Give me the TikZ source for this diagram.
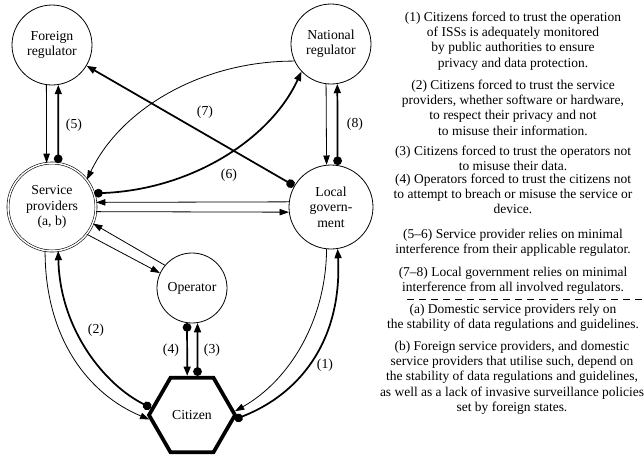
\documentclass[tikz,border=0pt]{standalone}
\usepackage{fontspec}
\setmainfont{Liberation Serif}
\usetikzlibrary{arrows.meta,shapes.geometric}

\newcommand\txtsize{\fontsize{10.3}{11.5}\selectfont}
\newcommand\legsize{\fontsize{10.1}{11.5}\selectfont}

\tikzset{
  ent/.style={circle, draw, line width=0.6pt, inner sep=0pt, align=center, font=\txtsize},
  thinarr/.style={line width=0.6pt, -{Triangle[length=7pt,width=4.8pt]}},
  trustarr/.style={line width=1.3pt, {Circle[length=6.5pt]}-{Triangle[length=7pt,width=5.2pt]}},
  lbl/.style={font=\txtsize, inner sep=0pt},
  note/.style={align=center, anchor=north, inner sep=0pt, font=\legsize}
}

\begin{document}
\begin{tikzpicture}[x=0.75pt, y=-0.75pt]
\useasboundingbox (0,0) rectangle (644,455);

% actors
\node[ent, minimum size=60pt] (fr) at (52,45) {Foreign\\regulator};
\node[ent, minimum size=60pt] (nr) at (331,44) {National\\regulator};
\node[ent, minimum size=63pt] (lg) at (331,207) {Local\\govern-\\ment};
\node[ent, minimum size=66pt, double, double distance=1.1pt, line width=0.45pt] (sp) at (52,207) {Service\\providers\\(a, b)};
\node[ent, minimum size=52.5pt] (op) at (192,288) {Operator};
\node[regular polygon, regular polygon sides=6, draw, line width=2.8pt,
      minimum size=64.5pt, inner sep=0pt, font=\txtsize] (cit) at (192,415) {Citizen};

% regulators and service providers
\draw[thinarr] (fr.-98.6) -- (sp.97.7);
\draw[trustarr] (sp.82.3) -- (fr.-81.4);
\draw[thinarr] (nr.-97.2) -- (lg.96.8);
\draw[trustarr] (lg.81.8) -- (nr.-81.4);
\draw[trustarr] (lg.150) -- (fr.-31.4);
\draw[thinarr] (nr.205) .. controls (200,61) and (120,110) .. (sp.38.9);
\draw[trustarr] (sp.18.4) .. controls (190,190) and (270,140) .. (nr.223.2);

% service providers, local government and operator
\draw[thinarr] (lg.173.2) -- (sp.6.4);
\draw[thinarr] (sp.-6.4) -- (lg.-173.2);
\draw[thinarr] (op.140.6) -- (sp.-22.7);
\draw[thinarr] (sp.-38.7) -- (op.155.6);

% citizen links
\draw[trustarr] (op.-98.2) -- (cit.97.7);
\draw[trustarr] (cit.82.3) -- (op.-81.8);
\draw[thinarr] (sp.-99) .. controls (45,340) and (90,395) .. (cit.186);
\draw[trustarr] (cit.170) .. controls (105,385) and (60,330) .. (sp.-82);
\draw[thinarr] (lg.-96.8) .. controls (326,320) and (290,380) .. (cit.5);
\draw[trustarr] (cit.-6) .. controls (305,392) and (342,335) .. (lg.-81.8);

% edge numbers
\node[lbl] (l1) at (325,365) {(1)};
\node[lbl] (l2) at (96,330) {(2)};
\node[lbl] (l3) at (212,350) {(3)};
\node[lbl] (l4) at (171,350) {(4)};
\node[lbl] (l5) at (74,125) {(5)};
\node[lbl] (l6) at (229,175) {(6)};
\node[lbl] (l7) at (205,112) {(7)};
\node[lbl] (l8) at (355,124) {(8)};

% legend
\node[note] (n1) at (513,10.3) {\strut(1) Citizens forced to trust the operation\\of ISSs is adequately monitored\\by public authorities to ensure\\privacy and data protection.};
\node[note] (n2) at (513,78.3) {\strut(2) Citizens forced to trust the service\\providers, whether software or hardware,\\to respect their privacy and not\\to misuse their information.};
\node[note] (n3) at (513,144.3) {\strut(3) Citizens forced to trust the operators not\\to misuse their data.};
\node[note] (n4) at (513,172.3) {\strut(4) Operators forced to trust the citizens not\\to attempt to breach or misuse the service or\\device.};
\node[note] (n56) at (513,227.3) {\strut(5--6) Service provider relies on minimal\\interference from their applicable regulator.};
\node[note] (n78) at (513,265.3) {\strut(7--8) Local government relies on minimal\\interference from all involved regulators.};
\draw[line width=0.6pt, dash pattern=on 5.5pt off 3.5pt] (407,299) -- (644,299);
\node[note] (na) at (513,302.3) {\strut(a) Domestic service providers rely on\\the stability of data regulations and guidelines.};
\node[note] (nb) at (512,339.3) {\strut(b) Foreign service providers, and domestic\\service providers that utilise such, depend on\\the stability of data regulations and guidelines,\\as well as a lack of invasive surveillance policies\\set by foreign states.};
\end{tikzpicture}
\end{document}
